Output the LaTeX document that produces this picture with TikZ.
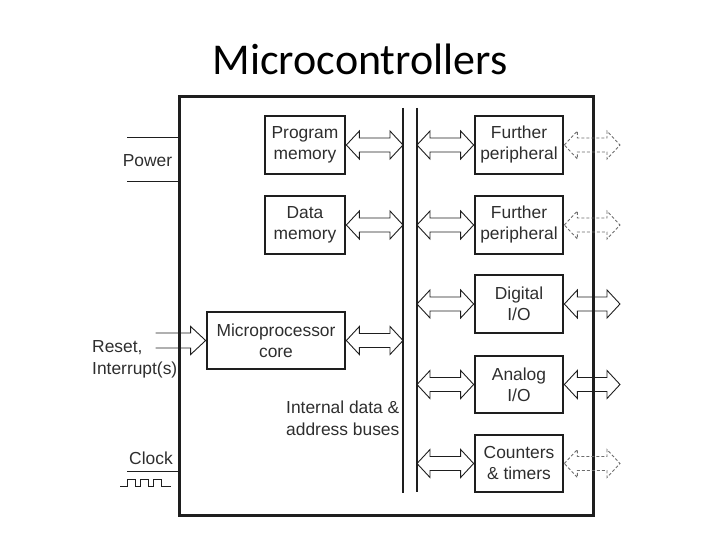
\documentclass[tikz,border=0pt]{standalone}
\usepackage{fontspec}
\setmainfont{Liberation Sans}
\newfontfamily\titlefont{Carlito}
\usetikzlibrary{calc}
\definecolor{ink}{HTML}{1E1E1E}
\definecolor{txt}{HTML}{2E2E2E}
\tikzset{
 blk/.style={draw=ink, line width=2.7pt, minimum width=80pt, minimum height=58pt, align=center, text=txt, font=\fontsize{17.4}{21}\selectfont, inner sep=0pt},
 lbl/.style={text=txt, font=\fontsize{17.4}{22}\selectfont, inner sep=0pt},
 arr/.style={draw=ink, line width=0.9pt, line join=miter},
 darr/.style={draw=ink!65, line width=0.9pt, dash pattern=on 3pt off 2pt},
 wire/.style={draw=ink, line width=1pt},
}
\newcommand\dblarr[3]{\draw[#1] let \p1=(#2), \p2=(#3) in (\x1,\y1) -- (\x1+13pt,\y1+14pt) -- (\x1+13pt,\y1+7pt) -- (\x2-13pt,\y1+7pt) -- (\x2-13pt,\y1+14pt) -- (\x2,\y1) -- (\x2-13pt,\y1-14pt) -- (\x2-13pt,\y1-7pt) -- (\x1+13pt,\y1-7pt) -- (\x1+13pt,\y1-14pt) -- cycle;}
\begin{document}
\begin{tikzpicture}[x=1pt,y=-1pt]
\useasboundingbox (0,0) rectangle (720,540);
\node[font=\titlefont\fontsize{44}{50}\selectfont, anchor=base, inner sep=0pt] (title) at (360,75) {Microcontrollers};
% outer chip
\node[draw=ink, line width=3pt, minimum width=414pt, minimum height=419pt, anchor=north west, inner sep=0pt] (mcu) at (178,95) {};
% blocks
\node[blk] (pm) at (305,145) {Program\\memory};
\node[blk] (dm) at (305,225) {Data\\memory};
\node[blk, minimum width=138pt, minimum height=57pt] (core) at (276,340.5) {Microprocessor\\core};
\node[blk, minimum width=88pt] (fp1) at (519,145) {Further\\peripheral};
\node[blk, minimum width=88pt] (fp2) at (519,225) {Further\\peripheral};
\node[blk, minimum width=88pt] (dio) at (519,304) {Digital\\I/O};
\node[blk, minimum width=88pt, minimum height=57pt] (aio) at (519,384.5) {Analog\\I/O};
\node[blk, minimum width=88pt, minimum height=57pt] (ct) at (519,463.5) {Counters\\\& timers};
% buses
\coordinate (bLt) at (403,108); \coordinate (bLb) at (403,493);
\coordinate (bRt) at (417,108); \coordinate (bRb) at (417,492);
\draw[ink, line width=1.5pt] (bLt) -- (bLb);
\draw[ink, line width=1.5pt] (bRt) -- (bRb);
\coordinate (outer) at (620,0);
% bus arrows
\dblarr{arr}{pm.east}{pm.east -| bLt}
\dblarr{arr}{dm.east}{dm.east -| bLt}
\dblarr{arr}{core.east}{core.east -| bLt}
\dblarr{arr}{fp1.west -| bRt}{fp1.west}
\dblarr{arr}{fp2.west -| bRt}{fp2.west}
\dblarr{arr}{dio.west -| bRt}{dio.west}
\dblarr{arr}{aio.west -| bRt}{aio.west}
\dblarr{arr}{ct.west -| bRt}{ct.west}
% external arrows
\dblarr{darr}{fp1.east}{fp1.east -| outer}
\dblarr{darr}{fp2.east}{fp2.east -| outer}
\dblarr{arr}{dio.east}{dio.east -| outer}
\dblarr{arr}{aio.east}{aio.east -| outer}
\dblarr{darr}{ct.east}{ct.east -| outer}
% power
\coordinate (pw1) at (127,138); \coordinate (pw2) at (127,182);
\draw[wire] (pw1) -- (pw1 -| mcu.west);
\draw[wire] (pw2) -- (pw2 -| mcu.west);
\node[lbl] (power) at (147.5,161) {Power};
% reset input
\draw[arr] let \p1=(core.west) in (\x1-50pt,\y1+7.5pt) -- (\x1-15pt,\y1+7.5pt) -- (\x1-15pt,\y1+14pt) -- (\x1,\y1) -- (\x1-15pt,\y1-14pt) -- (\x1-15pt,\y1-7.5pt) -- (\x1-50pt,\y1-7.5pt);
\node[lbl, align=left, anchor=west] (reset) at (92,359) {Reset,\\Interrupt(s)};
% buses label
\node[lbl, align=left, anchor=west] (buslbl) at (286,418) {Internal data \&\\address buses};
% clock
\node[lbl] (clock) at (151,458) {Clock};
\coordinate (ck) at (127,471);
\draw[wire] (ck) -- (ck -| mcu.west);
\draw[ink, line width=0.8pt] (120,486) -- (127,486) -- (127,479) -- (135,479) -- (135,486) -- (140,486) -- (140,479) -- (148,479) -- (148,486) -- (153,486) -- (153,479) -- (161,479) -- (161,486) -- (171,486);
\end{tikzpicture}
\end{document}
